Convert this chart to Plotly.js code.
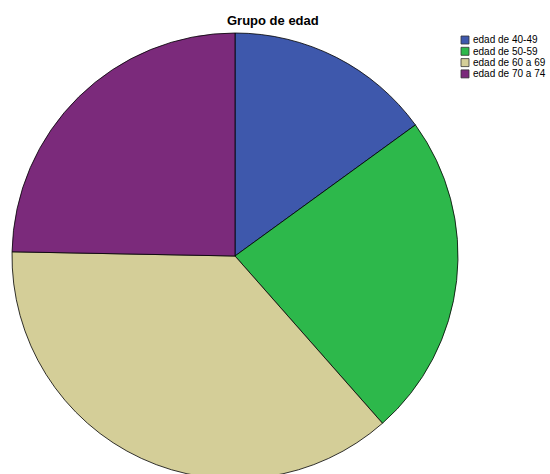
<!DOCTYPE html>
<html><head><meta charset="utf-8">
<script src="https://cdn.plot.ly/plotly-3.0.1.min.js"></script>
<style>html,body{margin:0;padding:0;overflow:hidden;background:#fff}#chart{width:550px;height:490px}</style>
</head><body><div id="chart"></div>
<script>
const labels = ["edad de 40-49", "edad de 50-59", "edad de 60 a 69", "edad de 70 a 74"];
const values = [15.0, 23.5, 36.8, 24.7];
const colors = ["#3E58AC", "#2DB84B", "#D4CE98", "#7B2A7B"];
const chartTitle = "Grupo de edad";

const W = 550, H = 490;
const shapes = [], annotations = [];
annotations.push({text: "<b>" + chartTitle + "</b>", xref: "paper", yref: "paper",
  x: 273 / W, y: 1 - 20 / H, xanchor: "center", yanchor: "middle", showarrow: false,
  font: {family: "Arial, Liberation Sans", size: 13, color: "#000"}});
labels.forEach((lab, i) => {
  const cy = 40 + i * 11.3;
  shapes.push({type: "rect", xref: "paper", yref: "paper",
    x0: 461 / W, x1: 469 / W, y0: 1 - (cy - 4) / H, y1: 1 - (cy + 4) / H,
    fillcolor: colors[i], line: {color: "#333", width: 0.8}});
  annotations.push({text: lab, xref: "paper", yref: "paper", x: 471 / W, y: 1 - cy / H,
    xanchor: "left", yanchor: "middle", showarrow: false,
    font: {family: "Arial, Liberation Sans", size: 10, color: "#000"}});
});

Plotly.newPlot("chart", [{
  type: "pie", labels: labels, values: values, sort: false, direction: "clockwise",
  rotation: 0, textinfo: "none", hoverinfo: "label+value",
  marker: {colors: colors, line: {color: "#000", width: 0.8}},
  domain: {x: [12 / W, 458 / W], y: [1 - 479 / H, 1 - 33 / H]}
}], {
  width: W, height: H, margin: {l: 0, r: 0, t: 0, b: 0},
  showlegend: false, paper_bgcolor: "#fff", shapes: shapes, annotations: annotations
}, {displayModeBar: false, staticPlot: true});
</script></body></html>
